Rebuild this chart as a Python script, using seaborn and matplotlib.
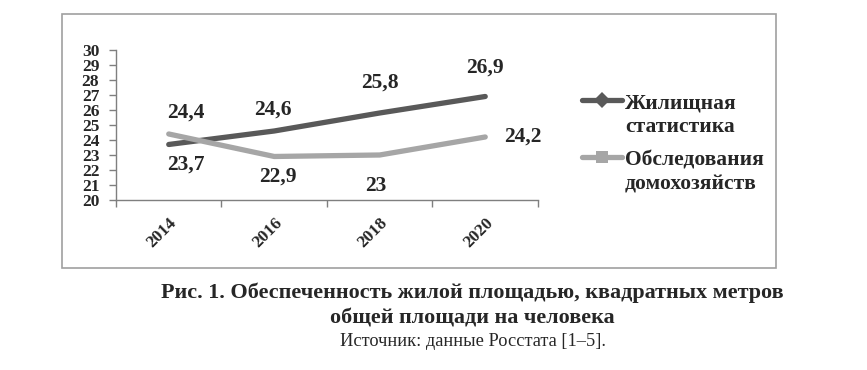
import pandas as pd
import seaborn as sns
import matplotlib.pyplot as plt
from matplotlib.patches import Rectangle
from matplotlib.lines import Line2D
from matplotlib.ticker import FixedLocator

# data
years = ['2014', '2016', '2018', '2020']
housing_stat = [23.7, 24.6, 25.8, 26.9]
household_survey = [24.4, 22.9, 23.0, 24.2]
series_names = ['Жилищная\nстатистика', 'Обследования\nдомохозяйств']

df = pd.DataFrame({
    'year': years * 2,
    'value': housing_stat + household_survey,
    'series': [series_names[0]] * 4 + [series_names[1]] * 4,
})

sns.set_style('white')
plt.rcParams['font.family'] = ['Liberation Serif', 'DejaVu Serif']

fig = plt.figure(figsize=(8.67, 3.70), dpi=100)
ax = fig.add_axes([0.1338, 0.4595, 0.4867, 0.4054])

# outer frame around the chart
fig.patches.append(Rectangle((0.0715, 0.2757), 0.8235, 0.6863, transform=fig.transFigure,
                             fill=False, edgecolor='#a0a0a0', linewidth=1.2))

colors = ['#595959', '#a6a6a6']
sns.lineplot(data=df, x='year', y='value', hue='series', palette=colors,
             linewidth=3.8, sort=False, ax=ax, legend=False, solid_capstyle='round')

ax.set_ylim(20, 30)
ax.set_xlim(-0.5, 3.5)
ax.set_yticks(range(20, 31))
ax.set_xticks(range(4))
ax.set_xticklabels(years, rotation=45, ha='right', rotation_mode='anchor',
                   fontsize=12.5, fontweight='bold')
ax.set_yticklabels([str(v) for v in range(20, 31)], fontsize=12.5, fontweight='bold')
ax.xaxis.set_minor_locator(FixedLocator([-0.5, 0.5, 1.5, 2.5, 3.5]))
ax.tick_params(axis='x', which='major', length=0, pad=11)
ax.tick_params(axis='x', which='minor', length=5, width=1, color='#7f7f7f', direction='out', bottom=True)
ax.tick_params(axis='y', length=5, width=1, color='#7f7f7f', direction='out', left=True, pad=7)
ax.set_xlabel('')
ax.set_ylabel('')
sns.despine(ax=ax)
for s in ['left', 'bottom']:
    ax.spines[s].set_color('#7f7f7f')
    ax.spines[s].set_linewidth(1)

# data labels (offsets in data units)
lab = dict(fontsize=15.5, fontweight='bold', ha='center', va='center')
dark_pos = [(0.16, -1.37), (0.99, 1.4), (2.0, 2.0), (3.0, 1.9)]
light_pos = [(0.16, 1.4), (1.03, -1.37), (1.96, -2.07), (3.36, 0.0)]
for v, (x, o) in zip(housing_stat, dark_pos):
    ax.text(x, v + o, f'{v:g}'.replace('.', ','), **lab)
for v, (x, o) in zip(household_survey, light_pos):
    ax.text(x, v + o, f'{v:g}'.replace('.', ','), **lab)

# legend drawn by hand: handle sits next to the first line of each label
for c, m, name, hy, ty in zip(colors, ['D', 's'], series_names,
                              [0.7297, 0.5757], [0.688, 0.534]):
    fig.add_artist(Line2D([582 / 867, 602 / 867, 622 / 867], [hy, hy, hy],
                          transform=fig.transFigure, color=c, linewidth=3.8,
                          marker=m, markevery=[1], markersize=8.5, markeredgewidth=0,
                          solid_capstyle='round'))
    fig.text(625 / 867, ty, name, ha='left', va='center', fontsize=15.5,
             fontweight='bold', linespacing=1.25)

# caption
fig.text(0.545, 0.1743, 'Рис. 1. Обеспеченность жилой площадью, квадратных метров\nобщей площади на человека',
         ha='center', va='center', fontsize=15.9, fontweight='bold', linespacing=1.38)
fig.text(0.545, 0.078, 'Источник: данные Росстата [1–5].', ha='center', va='center', fontsize=13.2)

plt.savefig('out.png', dpi=100)
